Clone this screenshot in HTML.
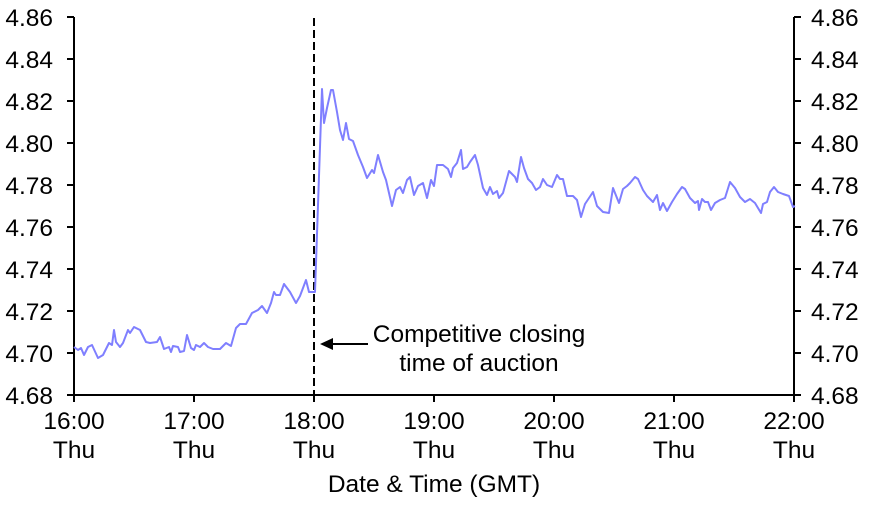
<!DOCTYPE html>
<html><head><meta charset="utf-8"><style>body{margin:0;background:#fff}svg text{font-family:"Liberation Sans",Arial,sans-serif;font-size:24.5px;fill:#000}</style></head><body>
<svg width="869" height="508" viewBox="0 0 869 508" xmlns="http://www.w3.org/2000/svg">
<g stroke="#000" stroke-width="2" fill="none">
<line x1="74" y1="17" x2="74" y2="396"/>
<line x1="794" y1="17" x2="794" y2="396"/>
<line x1="67" y1="395" x2="801" y2="395"/>
<path d="M67 17h7M67 59h7M67 101h7M67 143h7M67 185h7M67 227h7M67 269h7M67 311h7M67 353h7M794 17h7M794 59h7M794 101h7M794 143h7M794 185h7M794 227h7M794 269h7M794 311h7M794 353h7M74 395v7M194 395v7M314 395v7M434 395v7M554 395v7M674 395v7M794 395v7"/>
<line x1="314" y1="18" x2="314" y2="395" stroke-dasharray="8,4"/>
<line x1="330" y1="344" x2="368" y2="344"/>
</g>
<polygon points="320,344 333,338 333,350" fill="#000"/>
<polyline fill="none" stroke="#7f7fff" stroke-width="2" stroke-linejoin="round" points="74,347 78,350 81,348 84,355 88,347 92,345 98,358 103,355 109,343 112,345 114,330 116,342 120,347 123,343 128,330 130,333 134,327 140,330 146,342 150,343 157,342 160,337 164,349 169,347 171,352 173,346 178,347 180,352 184,351 187,335 191,348 194,350 196,345 200,347 204,343 208,347 213,349 220,349 226,343 231,346 236,328 240,324 246,324 252,313 258,310 262,306 267,313 271,303 274,292 276,295 280,295 284,284 290,292 296,303 300,296 306,280 309,292 315,292 322,89 324,123 327,108 331,90 333,90 337,112 340,130 343,140 346,123 349,139 353,141 358,155 363,167 367,178 372,170 374,173 378,155 383,172 386,180 392,206 396,190 400,187 403,193 407,180 410,177 414,195 418,186 423,183 427,198 431,180 434,186 437,165 443,165 448,169 451,177 453,168 457,163 461,150 463,169 467,167 470,162 475,155 478,165 483,188 487,195 490,187 493,194 497,191 499,198 503,193 509,171 515,177 517,182 521,157 524,168 528,179 532,183 536,190 540,187 543,179 547,185 552,187 557,175 560,179 563,179 567,196 573,196 577,200 581,217 585,204 593,192 597,206 603,212 609,213 613,188 619,203 623,189 627,186 630,183 635,177 638,179 643,190 647,196 653,202 657,195 660,210 663,203 667,211 672,202 677,194 682,187 685,189 690,198 695,203 698,201 699,210 702,199 705,202 708,202 711,210 715,203 720,200 725,198 730,182 735,188 740,197 745,202 750,199 755,203 761,213 763,204 767,202 770,192 774,187 778,192 783,194 789,196 793,207 795,206"/>
<g text-anchor="end">
<text x="53" y="26">4.86</text><text x="53" y="68">4.84</text><text x="53" y="110">4.82</text><text x="53" y="152">4.80</text><text x="53" y="194">4.78</text><text x="53" y="236">4.76</text><text x="53" y="278">4.74</text><text x="53" y="320">4.72</text><text x="53" y="362">4.70</text><text x="53" y="404">4.68</text>
</g>
<g text-anchor="start">
<text x="811" y="26">4.86</text><text x="811" y="68">4.84</text><text x="811" y="110">4.82</text><text x="811" y="152">4.80</text><text x="811" y="194">4.78</text><text x="811" y="236">4.76</text><text x="811" y="278">4.74</text><text x="811" y="320">4.72</text><text x="811" y="362">4.70</text><text x="811" y="404">4.68</text>
</g>
<g text-anchor="middle">
<text x="74" y="429">16:00</text><text x="194" y="429">17:00</text><text x="314" y="429">18:00</text><text x="434" y="429">19:00</text><text x="554" y="429">20:00</text><text x="674" y="429">21:00</text><text x="794" y="429">22:00</text>
<text x="74" y="458">Thu</text><text x="194" y="458">Thu</text><text x="314" y="458">Thu</text><text x="434" y="458">Thu</text><text x="554" y="458">Thu</text><text x="674" y="458">Thu</text><text x="794" y="458">Thu</text>
<text x="434" y="492">Date &amp; Time (GMT)</text>
<text x="479" y="342">Competitive closing</text>
<text x="479" y="371">time of auction</text>
</g>
</svg>
</body></html>
